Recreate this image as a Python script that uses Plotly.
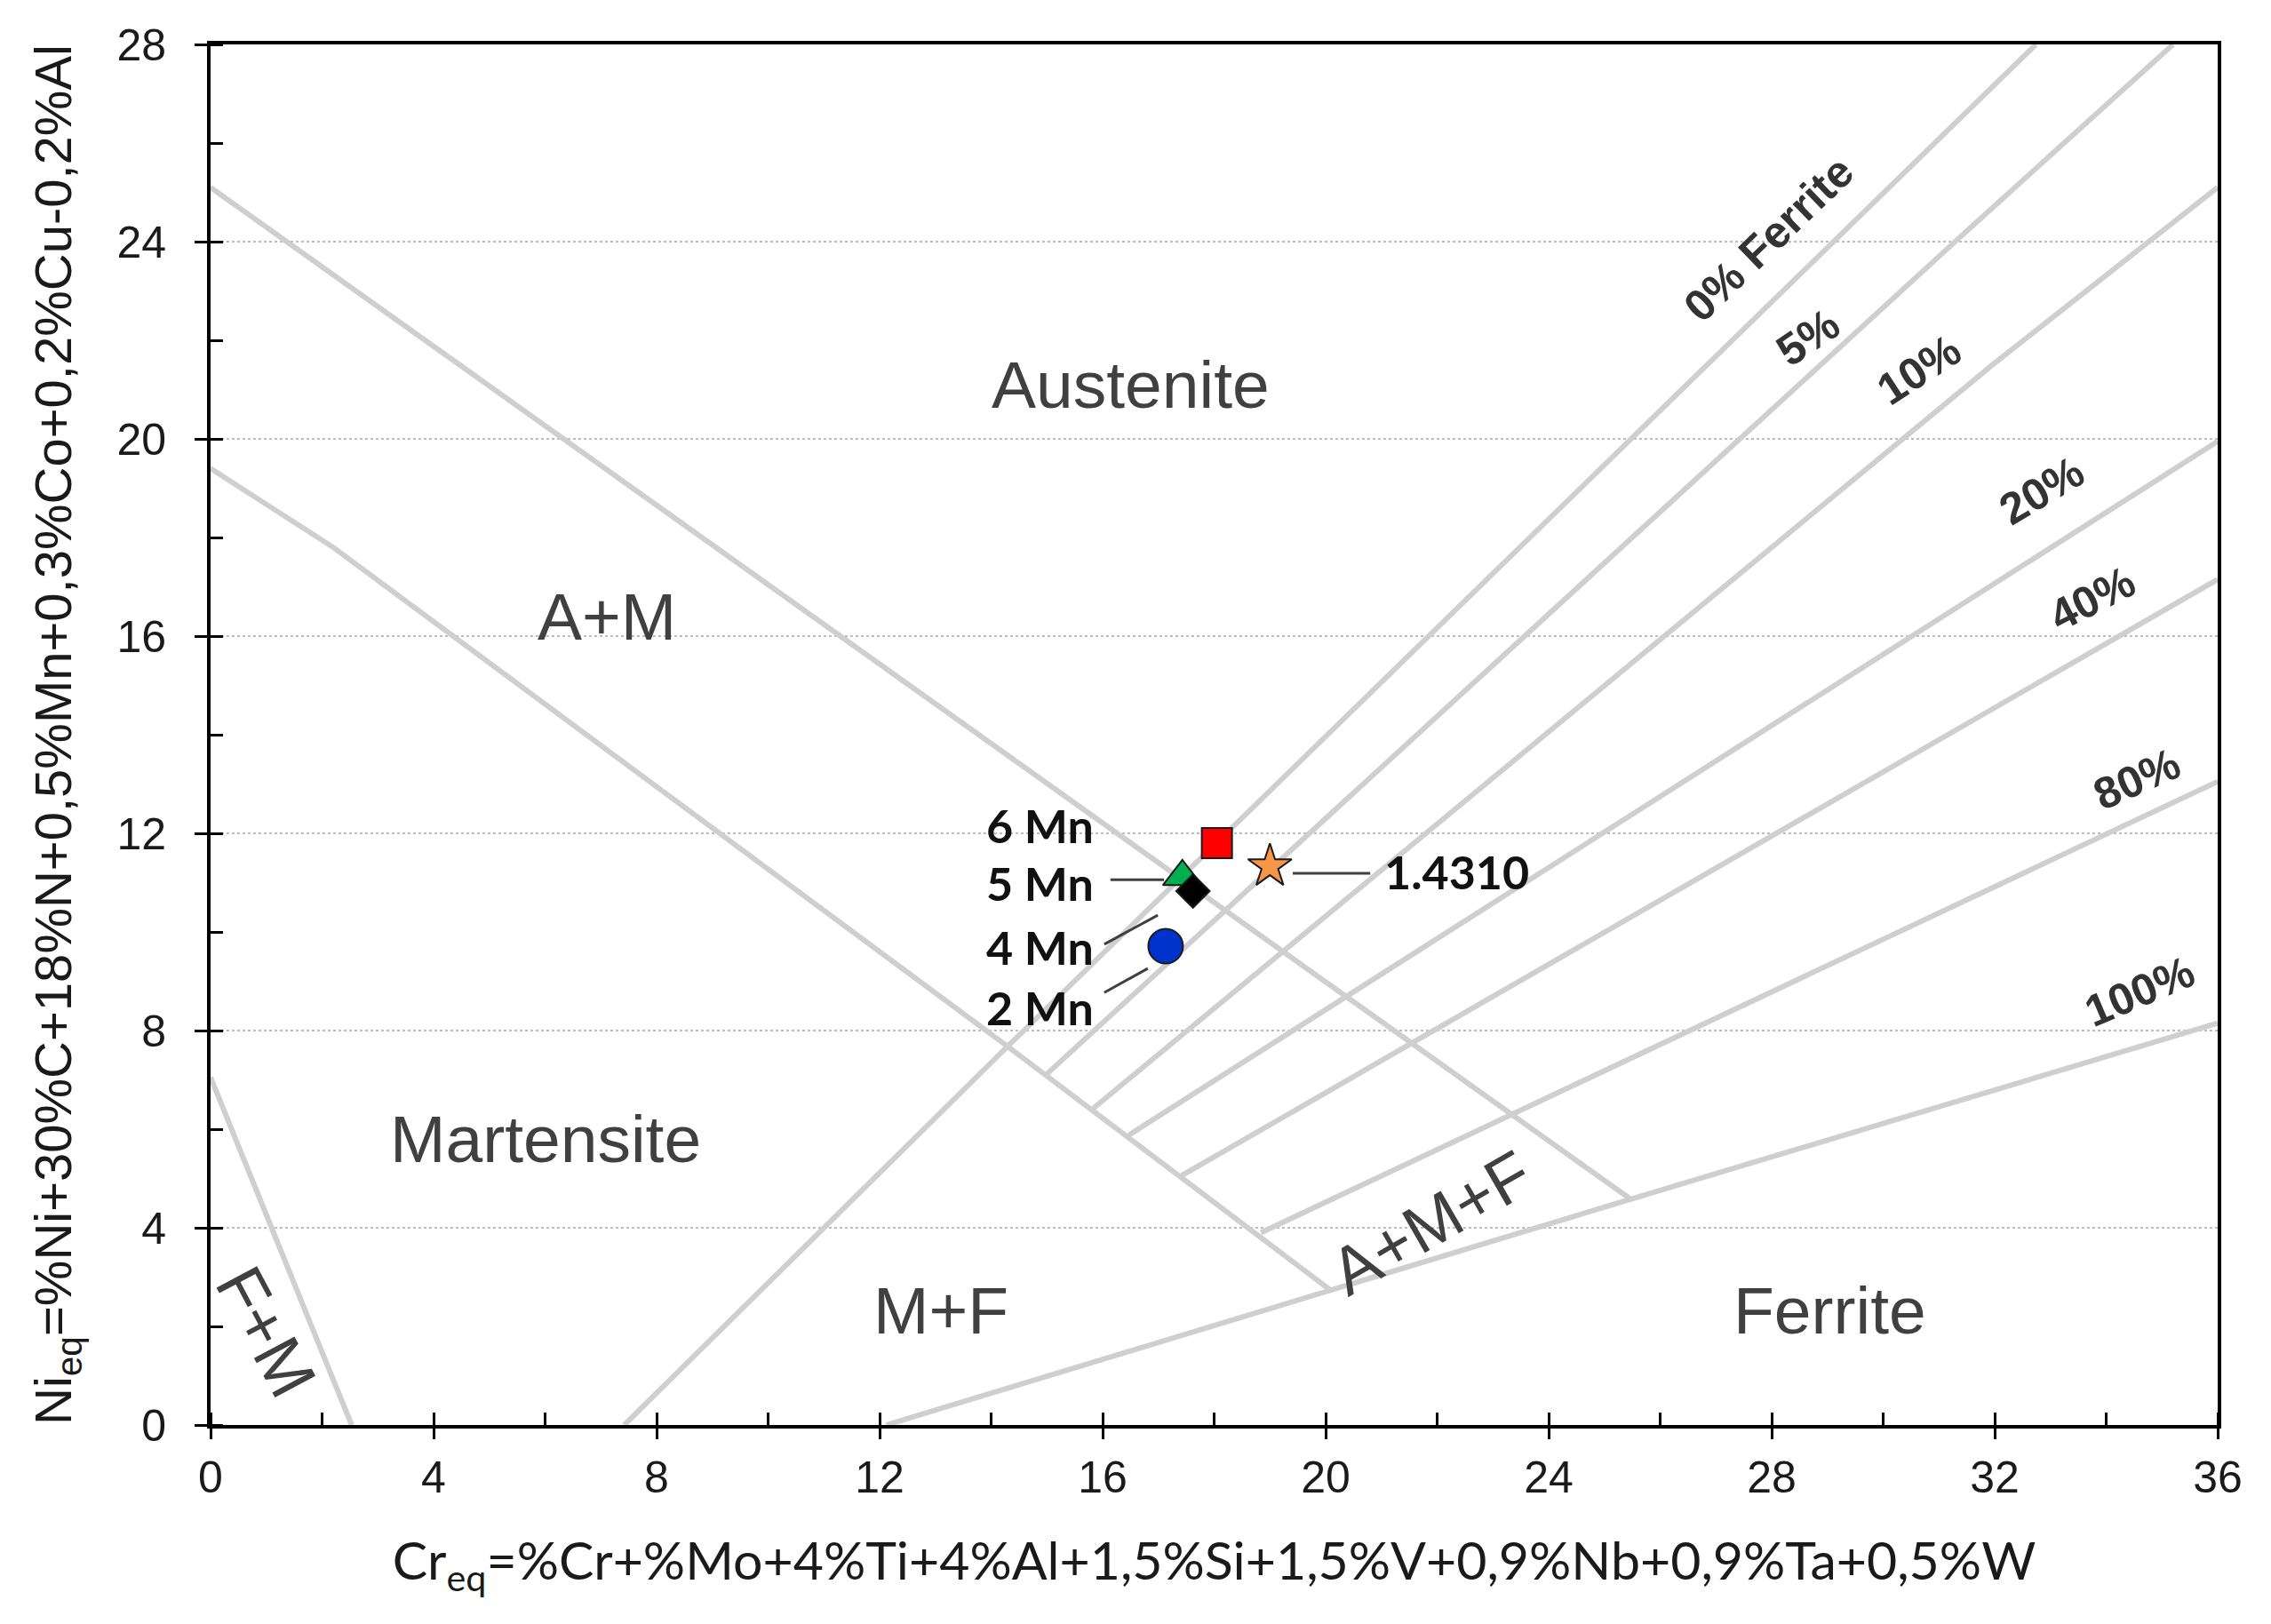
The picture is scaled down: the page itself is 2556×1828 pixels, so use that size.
import plotly.graph_objects as go

# Schaeffler diagram boundary lines (Cr_eq on x, Ni_eq on y)
fm_x = [0, 2.53]
fm_y = [7.05, 0]
am_low_x = [0, 2.2, 14.27, 20.08]
am_low_y = [19.4, 17.8, 7.7, 2.74]
am_up_x = [0, 25.47]
am_up_y = [25.1, 4.58]

# iso-ferrite lines: 0%, 5%, 10%, 20%, 40%, 80%, 100%
ferrite_x = [
    [7.42, 14.27, 32.74],
    [15.0, 31.27, 35.2],
    [15.83, 31.99, 36],
    [16.47, 36],
    [17.42, 36],
    [18.84, 36],
    [12.12, 20.08, 25.47, 36],
]
ferrite_y = [
    [0, 7.65, 28],
    [7.12, 23.98, 28],
    [6.42, 21.53, 25.1],
    [5.88, 19.95],
    [5.06, 17.15],
    [3.9, 13.05],
    [0, 2.74, 4.58, 8.15],
]

ferrite_labels = ["0% Ferrite", "5%", "10%", "20%", "40%", "80%", "100%"]
ferrite_lab_x = [27.95, 28.65, 30.65, 32.85, 33.75, 34.55, 34.6]
ferrite_lab_y = [24.05, 22.05, 21.4, 18.95, 16.75, 13.1, 8.8]
ferrite_lab_angle = [-44, -34, -33, -31, -27, -24, -23]

region_names = ["Austenite", "A+M", "Martensite", "M+F", "Ferrite", "A+M+F", "F+M"]
region_x = [16.5, 7.1, 6.0, 13.1, 29.05, 21.9, 1.0]
region_y = [21.1, 16.4, 5.8, 2.33, 2.33, 4.1, 1.9]
region_angle = [0, 0, 0, 0, 0, -30, 62]

# samples
sample_names = ["6 Mn", "5 Mn", "4 Mn", "2 Mn", "1.4310"]
sample_cr = [18.05, 17.43, 17.62, 17.13, 19.0]
sample_ni = [11.8, 11.12, 10.83, 9.71, 11.33]
sample_symbol = ["square", "triangle-up", "diamond", "circle", "star"]
sample_color = ["#FF0000", "#00B050", "#000000", "#0033CC", "#F79646"]
sample_size = [34, 38, 29, 39, 37]
sample_lab_x = [14.88, 14.88, 14.88, 14.88, 22.35]
sample_lab_y = [12.17, 11.0, 9.69, 8.47, 11.22]

# leader lines from labels to points
lead_x = [[16.14, 17.1], [16.03, 16.99], [16.03, 16.81], [19.41, 20.8]]
lead_y = [[11.06, 11.06], [9.75, 10.34], [8.77, 9.26], [11.19, 11.19]]

line_col = "#CFCFCF"
line_w = 6

fig = go.Figure()

for xs, ys in [(fm_x, fm_y), (am_low_x, am_low_y), (am_up_x, am_up_y)]:
    fig.add_trace(go.Scatter(x=xs, y=ys, mode="lines",
                             line=dict(color=line_col, width=line_w),
                             showlegend=False, hoverinfo="skip"))
for xs, ys in zip(ferrite_x, ferrite_y):
    fig.add_trace(go.Scatter(x=xs, y=ys, mode="lines",
                             line=dict(color=line_col, width=line_w),
                             showlegend=False, hoverinfo="skip"))

for xs, ys in zip(lead_x, lead_y):
    fig.add_trace(go.Scatter(x=xs, y=ys, mode="lines",
                             line=dict(color="#404040", width=3),
                             showlegend=False, hoverinfo="skip"))

for i in range(len(sample_names)):
    fig.add_trace(go.Scatter(
        x=[sample_cr[i]], y=[sample_ni[i]], mode="markers",
        name=sample_names[i],
        marker=dict(symbol=sample_symbol[i], size=sample_size[i],
                    color=sample_color[i],
                    line=dict(color="#1a1a1a", width=2)),
        showlegend=False))

# empty trace so the overlay axes (inner half of major ticks) get drawn
fig.add_trace(go.Scatter(x=[], y=[], xaxis="x2", yaxis="y2", showlegend=False))

for t, x, y, a in zip(region_names, region_x, region_y, region_angle):
    fig.add_annotation(x=x, y=y, text=t, showarrow=False, textangle=a,
                       font=dict(family="Liberation Sans, Arial", size=75, color="#404040"))

for t, x, y, a in zip(ferrite_labels, ferrite_lab_x, ferrite_lab_y, ferrite_lab_angle):
    fig.add_annotation(x=x, y=y, text="<b>" + t + "</b>", showarrow=False, textangle=a,
                       font=dict(family="Liberation Sans, Arial", size=50, color="#333333"))

for t, x, y in zip(sample_names, sample_lab_x, sample_lab_y):
    fig.add_annotation(x=x, y=y, text="<b>" + t + "</b>", showarrow=False,
                       font=dict(family="Lato", size=52, color="#111111"))

tick_font = dict(family="Liberation Sans, Arial", size=50, color="#1a1a1a")

# page has an 8px body margin, so the figure is a little smaller than the window
fig.update_layout(
    width=2540, height=1812,
    margin=dict(l=229, r=52, t=42, b=216),
    plot_bgcolor="white", paper_bgcolor="white",
    xaxis=dict(
        range=[0, 36], tickvals=list(range(0, 37, 4)),
        ticks="outside", ticklen=12, tickwidth=3, tickcolor="black",
        minor=dict(dtick=2, ticks="inside", ticklen=14, tickwidth=3, tickcolor="black"),
        showline=True, linecolor="black", linewidth=4, mirror=True,
        showgrid=False, zeroline=False, tickfont=tick_font, ticklabelstandoff=0,
        title=dict(text="Cr<sub>eq</sub>=%Cr+%Mo+4%Ti+4%Al+1,5%Si+1,5%V+0,9%Nb+0,9%Ta+0,5%W",
                   font=dict(family="Lato", size=59, color="#1a1a1a"), standoff=48),
    ),
    yaxis=dict(
        range=[0, 28], tickvals=list(range(0, 29, 4)),
        ticks="outside", ticklen=14, tickwidth=3, tickcolor="black",
        minor=dict(dtick=2, ticks="inside", ticklen=14, tickwidth=3, tickcolor="black"),
        showline=True, linecolor="black", linewidth=4, mirror=True,
        showgrid=True, gridcolor="#BDBDBD", gridwidth=2, griddash="dot",
        zeroline=False, tickfont=tick_font, ticklabelstandoff=22,
        title=dict(text="Ni<sub>eq</sub>=%Ni+30%C+18%N+0,5%Mn+0,3%Co+0,2%Cu-0,2%Al",
                   font=dict(family="Liberation Sans, Arial", size=58, color="#1a1a1a"),
                   standoff=33),
    ),
    xaxis2=dict(overlaying="x", anchor="y2", range=[0, 36],
                tickvals=list(range(0, 37, 4)), ticks="inside", ticklen=12,
                tickwidth=3, tickcolor="black", showticklabels=False,
                showgrid=False, zeroline=False, showline=False),
    yaxis2=dict(overlaying="y", anchor="x2", range=[0, 28],
                tickvals=list(range(0, 29, 4)), ticks="inside", ticklen=14,
                tickwidth=3, tickcolor="black", showticklabels=False,
                showgrid=False, zeroline=False, showline=False),
)

fig.write_html("out.html")
